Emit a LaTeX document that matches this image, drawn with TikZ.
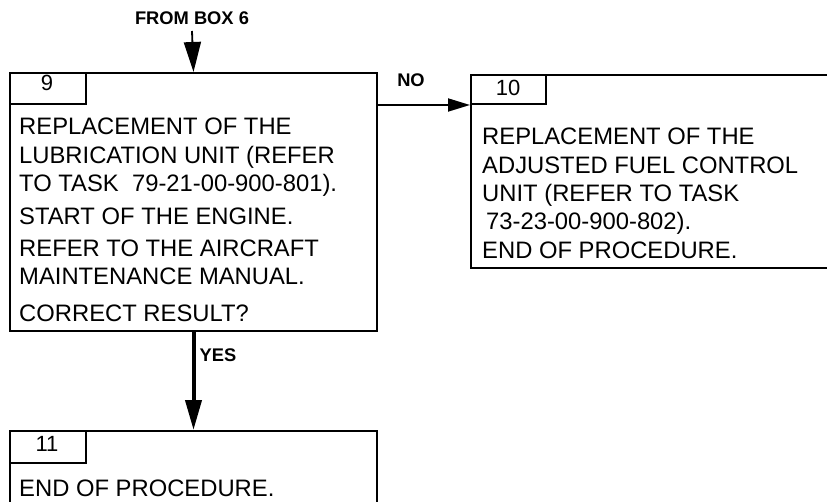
\documentclass[tikz,border=0pt]{standalone}
\usepackage{fontspec}
\setmainfont{Liberation Sans}
\usetikzlibrary{arrows.meta}
\begin{document}
\begin{tikzpicture}[x=1pt,y=-1pt,
  boxframe/.style={draw=black,line width=2pt,inner sep=0pt,anchor=north west},
  tabframe/.style={draw=black,line width=2pt,inner sep=0pt,anchor=north west,minimum width=76pt,minimum height=31pt},
  numtxt/.style={inner sep=0pt,font=\fontsize{22}{24}\selectfont},
  bodytxt/.style={inner sep=0pt,anchor=base west,font=\fontsize{23.8}{28}\selectfont},
  lbl/.style={inner sep=0pt,font=\fontsize{18.3}{20}\selectfont\bfseries},
  thinarrow/.style={line width=1.8pt,-{Triangle[length=30pt,width=17pt]}},
  noarrow/.style={line width=1.8pt,-{Triangle[length=22pt,width=13pt]}},
  thickarrow/.style={line width=4pt,-{Triangle[length=30pt,width=16pt]}}]
\clip (0,0) rectangle (827,502);
% box 9
\node[boxframe,minimum width=367pt,minimum height=258pt] (b9) at (9,72) {};
\node[tabframe] (t9) at (9,72) {};
\node[numtxt] (n9) at (47,83) {9};
\node[bodytxt] (l91) at (19,135) {REPLACEMENT OF THE};
\node[bodytxt] (l92) at (19,163.3) {LUBRICATION UNIT (REFER};
\node[bodytxt] (l93) at (19,191.7) {TO TASK\ \ 79-21-00-900-801).};
\node[bodytxt] (l94) at (19,225) {START OF THE ENGINE.};
\node[bodytxt] (l95) at (19,256.7) {REFER TO THE AIRCRAFT};
\node[bodytxt] (l96) at (19,285) {MAINTENANCE MANUAL.};
\node[bodytxt] (l97) at (19,321.7) {CORRECT RESULT?};
% box 10
\node[boxframe,minimum width=365pt,minimum height=193pt] (b10) at (470,74) {};
\node[tabframe,minimum width=75pt,minimum height=29pt] (t10) at (470,74) {};
\node[numtxt] (n10) at (508,88) {10};
\node[bodytxt] (l101) at (482,145) {REPLACEMENT OF THE};
\node[bodytxt] (l102) at (482,173.3) {ADJUSTED FUEL CONTROL};
\node[bodytxt] (l103) at (482,201.7) {UNIT (REFER TO TASK};
\node[bodytxt] (l104) at (482,230) {\hspace{4pt}73-23-00-900-802).};
\node[bodytxt] (l105) at (482,258.3) {END OF PROCEDURE.};
% box 11
\node[boxframe,minimum width=367pt,minimum height=100pt] (b11) at (9,430) {};
\node[tabframe,minimum height=32pt] (t11) at (9,430) {};
\node[numtxt] (n11) at (47,444) {11};
\node[bodytxt] (l111) at (19,496.7) {END OF PROCEDURE.};
% labels
\node[lbl] (from6) at (192,18) {FROM BOX 6};
\node[lbl] (no) at (411,80) {NO};
\node[lbl] (yes) at (218,355) {YES};
% connectors
\coordinate (s6) at (192,31);
\draw[thinarrow] (s6) -- (b9.north);
\draw[noarrow] (b9.east |- t10.south west) -- (t10.south west);
\draw[thickarrow] (b9.south) -- (b11.north);
\end{tikzpicture}
\end{document}
